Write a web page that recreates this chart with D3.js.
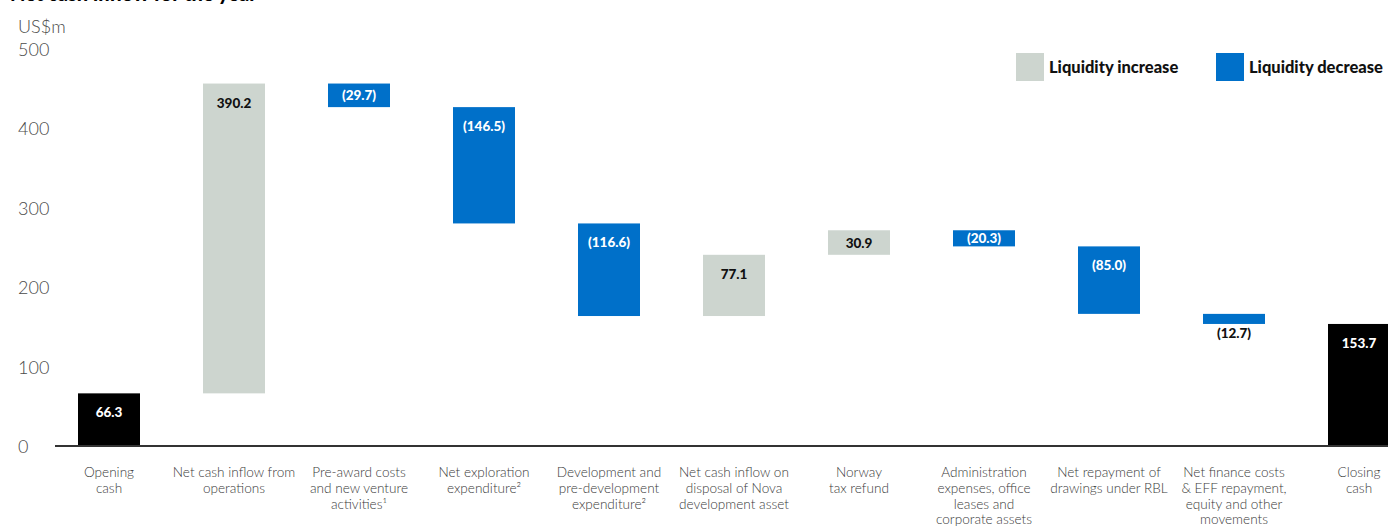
<!DOCTYPE html>
<html>
<head>
<meta charset="utf-8">
<script src="https://cdn.jsdelivr.net/npm/d3@7"></script>
<style>
  html, body { margin: 0; padding: 0; background: #fff; }
  svg { display: block; }
  .tick-label { font-family: Lato, sans-serif; font-weight: 300; font-size: 18px; fill: #4a4a4a; }
  .cat-label { font-family: Lato, sans-serif; font-weight: 300; font-size: 13.6px; fill: #3a3a3a; }
  .val-label { font-family: Lato, sans-serif; font-weight: 900; font-size: 13.5px; }
  .legend-label { font-family: Lato, sans-serif; font-weight: 900; font-size: 16.5px; fill: #111; }
  .title { font-family: Lato, sans-serif; font-weight: 900; font-size: 20px; fill: #000; }
</style>
</head>
<body>
<svg id="chart" width="1388" height="526"></svg>
<script>
// Cash-flow steps (US$m); category label lines, change, and step type
const categories = [
  ["Opening", "cash"],
  ["Net cash inflow from", "operations"],
  ["Pre-award costs", "and new venture", "activities¹"],
  ["Net exploration", "expenditure²"],
  ["Development and", "pre-development", "expenditure²"],
  ["Net cash inflow on", "disposal of Nova", "development asset"],
  ["Norway", "tax refund"],
  ["Administration", "expenses, office", "leases and", "corporate assets"],
  ["Net repayment of", "drawings under RBL"],
  ["Net finance costs", "& EFF repayment,", "equity and other", "movements"],
  ["Closing", "cash"]
];
const changes = [66.3, 390.2, -29.7, -146.5, -116.6, 77.1, 30.9, -20.3, -85.0, -12.7, 153.7];
const kinds = ["total", "step", "step", "step", "step", "step", "step", "step", "step", "step", "total"];
const valueLabels = ["66.3", "390.2", "(29.7)", "(146.5)", "(116.6)", "77.1", "30.9", "(20.3)", "(85.0)", "(12.7)", "153.7"];
const yTicks = [0, 100, 200, 300, 400, 500];
const legendItems = ["Liquidity increase", "Liquidity decrease"];

const colors = { total: "#000000", up: "#cdd5cf", down: "#0070c9" };

// Build the running totals for the waterfall
let running = 0;
const steps = changes.map((v, i) => {
  let lo, hi;
  if (kinds[i] === "total") { lo = 0; hi = v; running = v; }
  else { const start = running; running += v; lo = Math.min(start, running); hi = Math.max(start, running); }
  const type = kinds[i] === "total" ? "total" : (v >= 0 ? "up" : "down");
  return { i, lo, hi, type, label: valueLabels[i], cat: categories[i] };
});

const svg = d3.select("#chart");

const x = d3.scaleBand()
  .domain(d3.range(categories.length))
  .range([46.5, 1421.5])
  .paddingInner(0.504)
  .paddingOuter(0.252);

const y = d3.scaleLinear().domain([0, 500]).range([446, 49]);

// Title (partly above the top edge)
svg.append("text").attr("class", "title").attr("x", 10).attr("y", 1).text("Net cash inflow for the year");

// Unit label
svg.append("text").attr("class", "tick-label").attr("x", 18).attr("y", 33).text("US$m");

// Y tick labels
svg.append("g").selectAll("text").data(yTicks).join("text")
  .attr("class", "tick-label")
  .attr("x", 18)
  .attr("y", d => y(d) + 7)
  .text(d => d);

// Bars
svg.append("g").selectAll("rect").data(steps).join("rect")
  .attr("x", d => x(d.i))
  .attr("width", x.bandwidth())
  .attr("y", d => y(d.hi))
  .attr("height", d => y(d.lo) - y(d.hi))
  .attr("fill", d => colors[d.type]);

// Baseline
svg.append("line")
  .attr("x1", 55).attr("x2", 1388)
  .attr("y1", y(0)).attr("y2", y(0))
  .attr("stroke", "#333").attr("stroke-width", 2);

// Value labels
svg.append("g").selectAll("text").data(steps).join("text")
  .attr("class", "val-label")
  .attr("text-anchor", "middle")
  .attr("x", d => x(d.i) + x.bandwidth() / 2)
  .attr("y", d => {
    const top = y(d.hi), bot = y(d.lo), h = bot - top;
    if (h < 14) return bot + 14;
    if (h < 40) return (top + bot) / 2 + 5;
    return top + 24;
  })
  .attr("fill", d => {
    const h = y(d.lo) - y(d.hi);
    if (h < 14) return "#111";
    return d.type === "up" ? "#111" : "#fff";
  })
  .text(d => d.label);

// Category labels
const catG = svg.append("g").selectAll("text").data(steps).join("text")
  .attr("class", "cat-label")
  .attr("text-anchor", "middle")
  .attr("x", d => x(d.i) + x.bandwidth() / 2)
  .attr("y", 477);
catG.selectAll("tspan").data(d => d.cat.map(t => ({ t, cx: x(d.i) + x.bandwidth() / 2 }))).join("tspan")
  .attr("x", d => d.cx)
  .attr("dy", (d, j) => j === 0 ? 0 : 15.8)
  .text(d => d.t);

// Legend
const legend = svg.append("g");
const legendPos = [1016, 1216];
legendItems.forEach((name, k) => {
  legend.append("rect")
    .attr("x", legendPos[k]).attr("y", 53).attr("width", 28).attr("height", 28)
    .attr("fill", k === 0 ? colors.up : colors.down);
  legend.append("text").attr("class", "legend-label")
    .attr("x", legendPos[k] + 33).attr("y", 73).text(name);
});
</script>
</body>
</html>
